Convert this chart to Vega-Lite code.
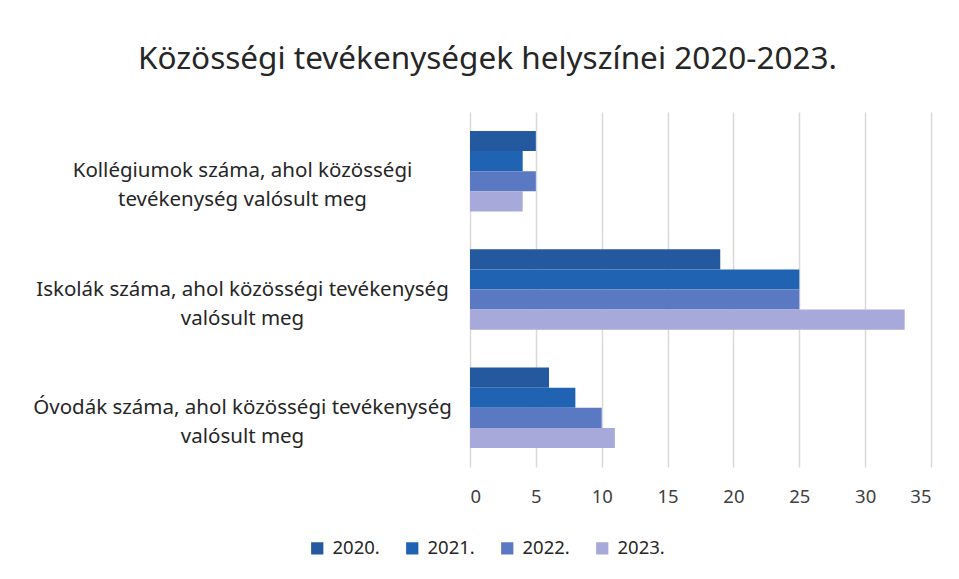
{
  "$schema": "https://vega.github.io/schema/vega-lite/v6.json",
  "width": 461,
  "height": 355,
  "autosize": {"type": "none"},
  "padding": {"left": 470, "top": 112, "right": 28, "bottom": 112},
  "background": "white",
  "title": {
    "text": "Közösségi tevékenységek helyszínei 2020-2023.",
    "font": "Noto Sans",
    "fontSize": 31.5,
    "fontWeight": "normal",
    "color": "#262626",
    "anchor": "middle",
    "dx": -213,
    "offset": 37
  },
  "data": {
    "values": [
      {"hely": "Kollégiumok száma, ahol közösségi\ntevékenység valósult meg", "ev": "2020.", "ertek": 5},
      {"hely": "Kollégiumok száma, ahol közösségi\ntevékenység valósult meg", "ev": "2021.", "ertek": 4},
      {"hely": "Kollégiumok száma, ahol közösségi\ntevékenység valósult meg", "ev": "2022.", "ertek": 5},
      {"hely": "Kollégiumok száma, ahol közösségi\ntevékenység valósult meg", "ev": "2023.", "ertek": 4},
      {"hely": "Iskolák száma, ahol közösségi tevékenység\nvalósult meg", "ev": "2020.", "ertek": 19},
      {"hely": "Iskolák száma, ahol közösségi tevékenység\nvalósult meg", "ev": "2021.", "ertek": 25},
      {"hely": "Iskolák száma, ahol közösségi tevékenység\nvalósult meg", "ev": "2022.", "ertek": 25},
      {"hely": "Iskolák száma, ahol közösségi tevékenység\nvalósult meg", "ev": "2023.", "ertek": 33},
      {"hely": "Óvodák száma, ahol közösségi tevékenység\nvalósult meg", "ev": "2020.", "ertek": 6},
      {"hely": "Óvodák száma, ahol közösségi tevékenység\nvalósult meg", "ev": "2021.", "ertek": 8},
      {"hely": "Óvodák száma, ahol közösségi tevékenység\nvalósult meg", "ev": "2022.", "ertek": 10},
      {"hely": "Óvodák száma, ahol közösségi tevékenység\nvalósult meg", "ev": "2023.", "ertek": 11}
    ]
  },
  "mark": {"type": "bar"},
  "encoding": {
    "y": {
      "field": "hely",
      "type": "nominal",
      "sort": null,
      "title": null,
      "scale": {"paddingInner": 0.32, "paddingOuter": 0.16},
      "axis": {
        "labelExpr": "split(datum.label, '\\n')",
        "labelAlign": "center",
        "labelBaseline": "middle",
        "labelPadding": 228,
        "labelLimit": 500,
        "labelFont": "Noto Sans",
        "labelFontSize": 20.5,
        "labelLineHeight": 29,
        "labelColor": "#262626",
        "ticks": false,
        "domain": false,
        "grid": false
      }
    },
    "yOffset": {"field": "ev", "type": "nominal", "sort": ["2020.", "2021.", "2022.", "2023."]},
    "x": {
      "field": "ertek",
      "type": "quantitative",
      "title": null,
      "scale": {"domain": [0, 35], "nice": false},
      "axis": {
        "values": [0, 5, 10, 15, 20, 25, 30, 35],
        "labelFont": "Noto Sans",
        "labelFontSize": 18.5,
        "labelColor": "#404040",
        "labelPadding": 20,
        "ticks": false,
        "domain": false,
        "grid": true,
        "gridColor": "#d9d9d9",
        "gridWidth": 1.5
      }
    },
    "color": {
      "field": "ev",
      "type": "nominal",
      "title": null,
      "scale": {
        "domain": ["2020.", "2021.", "2022.", "2023."],
        "range": ["#24589F", "#2063B2", "#5B79C3", "#A6A9D9"]
      },
      "legend": {
        "orient": "none",
        "direction": "horizontal",
        "legendX": -162,
        "legendY": 427,
        "symbolType": "square",
        "symbolSize": 150,
        "symbolStrokeWidth": 0,
        "labelFont": "Noto Sans",
        "labelFontSize": 18.5,
        "labelColor": "#262626",
        "columnPadding": 23,
        "labelOffset": 6
      }
    }
  },
  "config": {"view": {"stroke": null}}
}
